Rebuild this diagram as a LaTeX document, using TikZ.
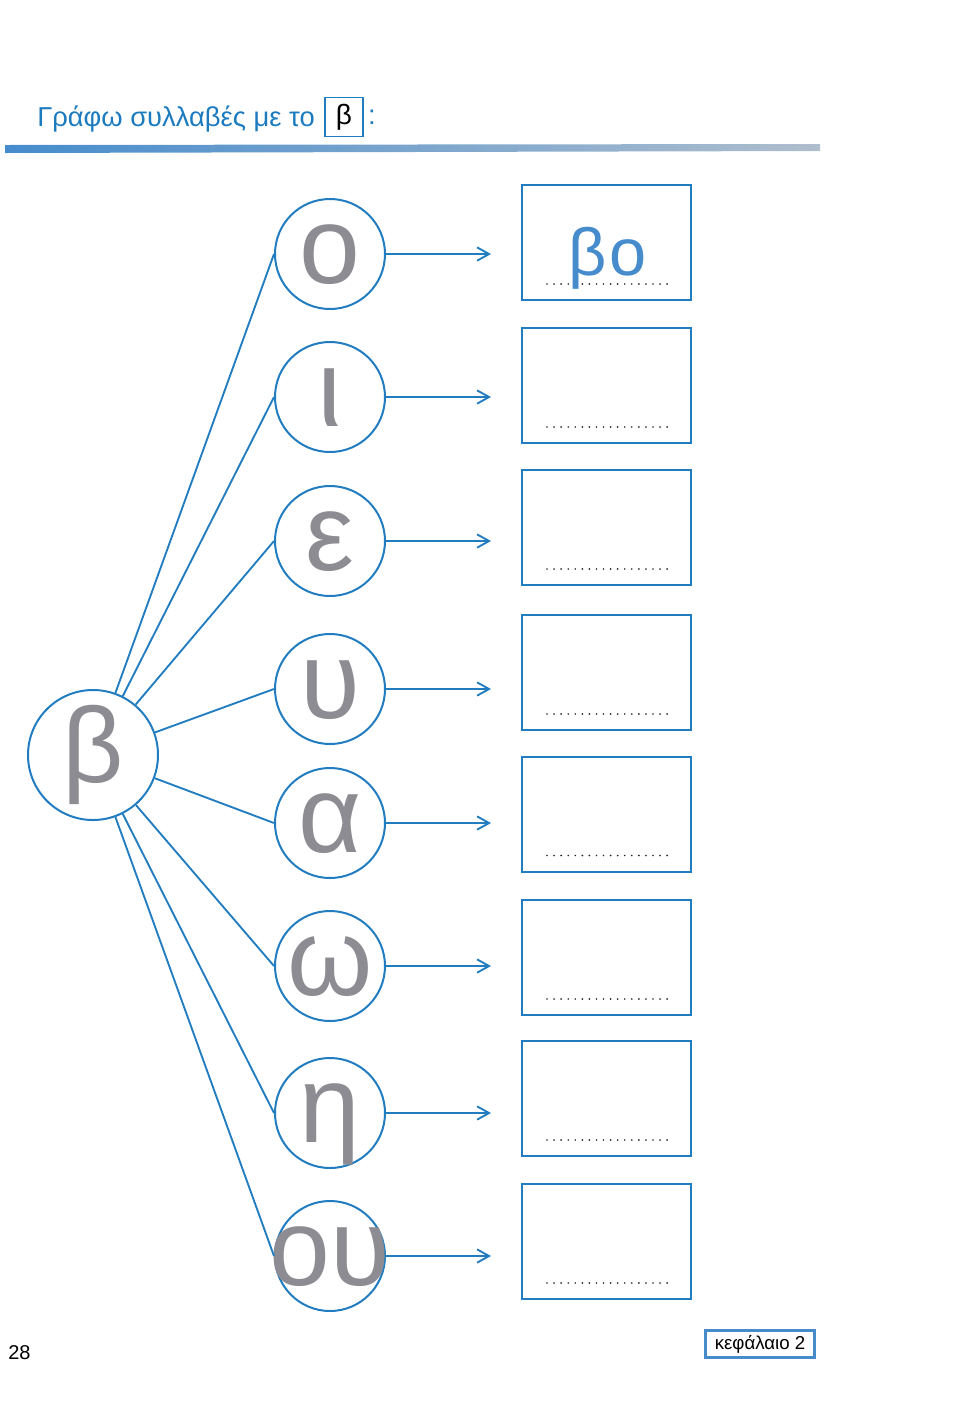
\documentclass[tikz,border=0pt]{standalone}
\usepackage{fontspec}
\setmainfont{Liberation Sans}
\usetikzlibrary{arrows.meta, positioning}

\definecolor{lineblue}{RGB}{34,124,192}
\definecolor{titleblue}{RGB}{28,122,190}
\definecolor{lettergray}{RGB}{140,140,146}
\definecolor{crayonblue}{RGB}{70,140,205}
\definecolor{crayongray}{RGB}{175,190,205}

\begin{document}
\begin{tikzpicture}[
      x=0.75pt, y=-0.75pt,
      vowel/.style={circle, draw=lineblue, line width=1.5pt, minimum size=82.5pt, inner sep=0pt,
        text=lettergray, font=\fontsize{82}{82}\selectfont, text height=44pt, text depth=0pt},
      cons/.style={circle, draw=lineblue, line width=1.5pt, minimum size=97.5pt, inner sep=0pt,
        text=lettergray, font=\fontsize{80}{80}\selectfont},
      answer/.style={rectangle, draw=lineblue, line width=1.5pt, minimum width=126.75pt, minimum height=86.25pt, inner sep=0pt},
      link/.style={draw=lineblue, line width=1.4pt},
      arrow/.style={draw=lineblue, line width=1.4pt, -{Straight Barb[length=9pt, width=10pt, line width=1.4pt]}},
      dots/.style={draw=black!85, line width=1.4pt, line cap=round, dash pattern=on 0pt off 5.3pt}
    ]
    \useasboundingbox (0,0) rectangle (960,1422);

    % title
    \node[anchor=base west, inner sep=0pt, text=titleblue, font=\fontsize{20.5}{20.5}\selectfont] (title) at (37,126) {Γράφω συλλαβές με το};
    \node[draw=lineblue, line width=1.2pt, minimum width=28.5pt, minimum height=29.5pt, inner sep=0pt,
      font=\fontsize{21}{21}\selectfont] (tbeta) at (344,117) {β};
    \node[right=3pt of tbeta, inner sep=0pt, text=titleblue, font=\fontsize{20.5}{20.5}\selectfont] (colon) {:};
    \shade[left color=crayonblue, right color=crayongray] (5,145) -- (820,144) -- (820,151) -- (5,153) -- cycle;

    % consonant
    \node[cons] (beta) at (93,755) {β};

    % vowels, arrows and answer boxes
    \foreach \l/\y/\by [count=\i] in {ο/254/242.5, ι/397/385.5, ε/541/527.5, υ/689/672.5,
        α/823/814, ω/966/957.5, η/1113/1098.5, ου/1256/1241.5} {
      \node[vowel] (v\i) at (330,\y) {\makebox[0pt]{\l}};
      \node[answer] (b\i) at (606.5,\by) {};
      \coordinate (t\i) at (491,\y);
      \draw[link] (beta) -- (v\i.west);
      \draw[arrow] (v\i.east) -- (t\i);
      \draw[dots] ([shift={(26,-17)}]b\i.south west) -- ([shift={(-22,-17)}]b\i.south east);
    }

    % example answer
    \node[text=crayonblue, font=\fontsize{50}{50}\selectfont, inner sep=0pt] (demo) at (608,258) {β\kern2pt ο};

    % footer
    \node[anchor=base west, inner sep=0pt, font=\fontsize{15}{15}\selectfont] (page) at (8,1359) {28};
    \node[draw=crayonblue, line width=1.8pt, inner sep=2.5pt, minimum width=82pt, minimum height=20pt,
      font=\fontsize{14}{14}\selectfont] (chapter) at (760,1344) {κεφάλαιο 2};
  \end{tikzpicture}
\end{document}
